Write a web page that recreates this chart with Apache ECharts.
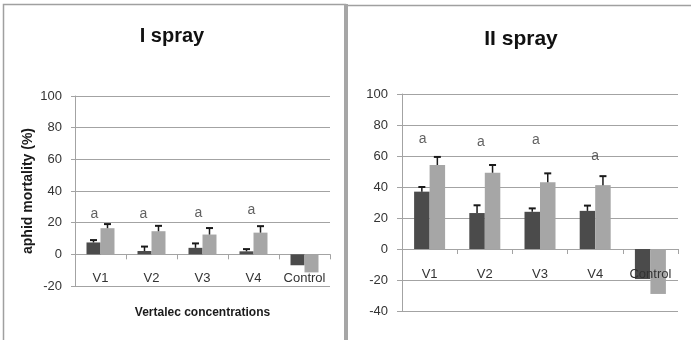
<!DOCTYPE html>
<html><head><meta charset="utf-8">
<script src="https://cdn.jsdelivr.net/npm/echarts@6/dist/echarts.min.js"></script>
<style>html,body{margin:0;padding:0;background:#fff}#c{width:691px;height:340px}</style>
</head><body><div id="c"></div>
<script>
// ---------- data ----------
const categories = ['V1', 'V2', 'V3', 'V4', 'Control'];
const titleLeft = 'I spray';
const titleRight = 'II spray';
const yNameLeft = 'aphid mortality (%)';
const xNameLeft = 'Vertalec concentrations';

// I spray
const leftDark = [7.5, 2.1, 4.1, 1.9, -6.9];
const leftDarkErr = [1.5, 2.8, 2.8, 1.4, 0];
const leftLight = [16.5, 14.6, 12.5, 13.7, -11.4];
const leftLightErr = [2.6, 3.4, 4.1, 4.1, 0];
const leftLetters = ['a', 'a', 'a', 'a'];
const leftLetterY = [25.5, 25.5, 26, 28];

// II spray
const rightDark = [37, 23.2, 24, 24.6, -19.4];
const rightDarkErr = [3, 5, 2.2, 3.4, 0];
const rightLight = [54.2, 49.2, 43, 41.2, -29];
const rightLightErr = [5.2, 5, 5.8, 5.8, 0];
const rightLetters = ['a', 'a', 'a', 'a'];
const rightLetterY = [70.8, 69.2, 70.3, 60];

// axis ranges
const leftMin = -20, leftMax = 100, rightMin = -40, rightMax = 100, yStep = 20;

// ---------- styles ----------
const DARK = '#4b4b4b', LIGHT = '#a6a6a6', GRID = '#a3a3a3', TXT = '#333';
const FONT = '"Liberation Sans", Arial, sans-serif';
const leftBarW = 14, rightBarW = 15.5;
const leftLetterShift = [-6, -8, -4, -2];
const rightLetterShift = [-7, -4, -4, 0];

function errRender(offset) {
  return function (params, api) {
    const i = api.value(0), v = api.value(1), e = api.value(2);
    if (!e) return null;
    const p0 = api.coord([i, v]);
    const p1 = api.coord([i, v + e]);
    const x = p0[0] + offset;
    return {
      type: 'group',
      children: [
        { type: 'line', shape: { x1: x, y1: p0[1], x2: x, y2: p1[1] }, style: { stroke: '#1a1a1a', lineWidth: 1.5 } },
        { type: 'line', shape: { x1: x - 3.5, y1: p1[1], x2: x + 3.5, y2: p1[1] }, style: { stroke: '#1a1a1a', lineWidth: 2 } }
      ]
    };
  };
}
function errData(vals, errs) { return vals.map((v, i) => [i, v, errs[i]]); }
function letterData(letters, ys, shifts) {
  return letters.map((t, i) => ({ value: [i, ys[i]], name: t, label: { offset: [shifts[i], 0] } }));
}

// axis line at zero with ticks (no labels)
function xLineAxis(gi) {
  return {
    type: 'category', gridIndex: gi, data: categories,
    axisLine: { onZero: true, lineStyle: { color: GRID, width: 1 } },
    axisTick: { show: true, length: 5, interval: 0, lineStyle: { color: GRID } },
    axisLabel: { show: false },
    splitLine: { show: false }
  };
}
// label-only axis (positioned by offset from grid bottom)
function xLabelAxis(gi, offset, withName) {
  const ax = {
    type: 'category', gridIndex: gi, data: categories, position: 'bottom', offset: offset, z: 10,
    axisLine: { show: false, onZero: false },
    axisTick: { show: false },
    axisLabel: { show: true, interval: 0, color: TXT, fontSize: 13, fontFamily: FONT, margin: 0 },
    splitLine: { show: false }
  };
  if (withName) {
    Object.assign(ax, {
      name: xNameLeft, nameLocation: 'middle', nameGap: 35,
      nameTextStyle: { color: '#1a1a1a', fontSize: 12, fontWeight: 'bold', fontFamily: FONT }
    });
  }
  return ax;
}
function yAxisFor(gi, mn, mx, margin, tickLen, withName) {
  const ax = {
    type: 'value', gridIndex: gi, min: mn, max: mx, interval: yStep,
    axisLine: { show: true, lineStyle: { color: GRID, width: 1 } },
    axisTick: { show: true, length: tickLen, lineStyle: { color: GRID } },
    axisLabel: { color: TXT, fontSize: 13, fontFamily: FONT, margin: margin },
    splitLine: { show: true, lineStyle: { color: GRID, width: 1 } }
  };
  if (withName) {
    Object.assign(ax, {
      name: yNameLeft, nameLocation: 'middle', nameGap: 40, nameRotate: 90,
      nameTextStyle: { color: '#1a1a1a', fontSize: 14, fontWeight: 'bold', fontFamily: FONT }
    });
  }
  return ax;
}

function barSeries(xi, yi, data, color, w) {
  return { type: 'bar', xAxisIndex: xi, yAxisIndex: yi, data: data, barWidth: w, barGap: '0%',
    itemStyle: { color: color }, silent: true, animation: false, z: 2 };
}
function errSeries(xi, yi, vals, errs, offset) {
  return { type: 'custom', xAxisIndex: xi, yAxisIndex: yi, data: errData(vals, errs),
    encode: { x: 0, y: 1 }, renderItem: errRender(offset), z: 5, animation: false, silent: true };
}
function letterSeries(xi, yi, letters, ys, shifts) {
  return { type: 'scatter', xAxisIndex: xi, yAxisIndex: yi, data: letterData(letters, ys, shifts),
    symbol: 'circle', symbolSize: 1, itemStyle: { color: 'rgba(0,0,0,0)' }, silent: true, animation: false, z: 6,
    label: { show: true, position: 'inside', formatter: p => p.name, color: '#3a3a3a', fontSize: 14, fontFamily: FONT } };
}

const chart = echarts.init(document.getElementById('c'), null, { renderer: 'canvas' });
chart.setOption({
  backgroundColor: '#fff',
  animation: false,
  grid: [
    { left: 75, right: 691 - 330, top: 96, bottom: 340 - 286, containLabel: false, outerBoundsMode: 'none' },
    { left: 402, right: 691 - 678, top: 94, bottom: 340 - 311, containLabel: false, outerBoundsMode: 'none' }
  ],
  xAxis: [xLineAxis(0), xLineAxis(1), xLabelAxis(0, -14, true), xLabelAxis(1, -43.5, false)],
  yAxis: [yAxisFor(0, leftMin, leftMax, 13, 4, true), yAxisFor(1, rightMin, rightMax, 14, 5, false)],
  series: [
    barSeries(0, 0, leftDark, DARK, leftBarW),
    barSeries(0, 0, leftLight, LIGHT, leftBarW),
    errSeries(0, 0, leftDark, leftDarkErr, -leftBarW / 2),
    errSeries(0, 0, leftLight, leftLightErr, leftBarW / 2),
    letterSeries(0, 0, leftLetters, leftLetterY, leftLetterShift),
    barSeries(1, 1, rightDark, DARK, rightBarW),
    barSeries(1, 1, rightLight, LIGHT, rightBarW),
    errSeries(1, 1, rightDark, rightDarkErr, -rightBarW / 2),
    errSeries(1, 1, rightLight, rightLightErr, rightBarW / 2),
    letterSeries(1, 1, rightLetters, rightLetterY, rightLetterShift)
  ],
  graphic: [
    { type: 'rect', shape: { x: 3.5, y: 4.5, width: 342, height: 345 }, style: { fill: 'none', stroke: '#a0a0a0', lineWidth: 1.5 }, z: 1, silent: true },
    { type: 'rect', shape: { x: 344, y: 4, width: 4, height: 340 }, style: { fill: '#a6a6a6' }, z: 2, silent: true },
    { type: 'line', shape: { x1: 348, y1: 5.5, x2: 691, y2: 5.5 }, style: { stroke: '#a0a0a0', lineWidth: 1.5 }, z: 1, silent: true },
    { type: 'text', x: 172, y: 36, style: { text: titleLeft, textAlign: 'center', textVerticalAlign: 'middle', font: 'bold 20px ' + FONT, fill: '#111' }, z: 10, silent: true },
    { type: 'text', x: 521, y: 39, style: { text: titleRight, textAlign: 'center', textVerticalAlign: 'middle', font: 'bold 21px ' + FONT, fill: '#111' }, z: 10, silent: true }
  ]
});
</script>
</body></html>
